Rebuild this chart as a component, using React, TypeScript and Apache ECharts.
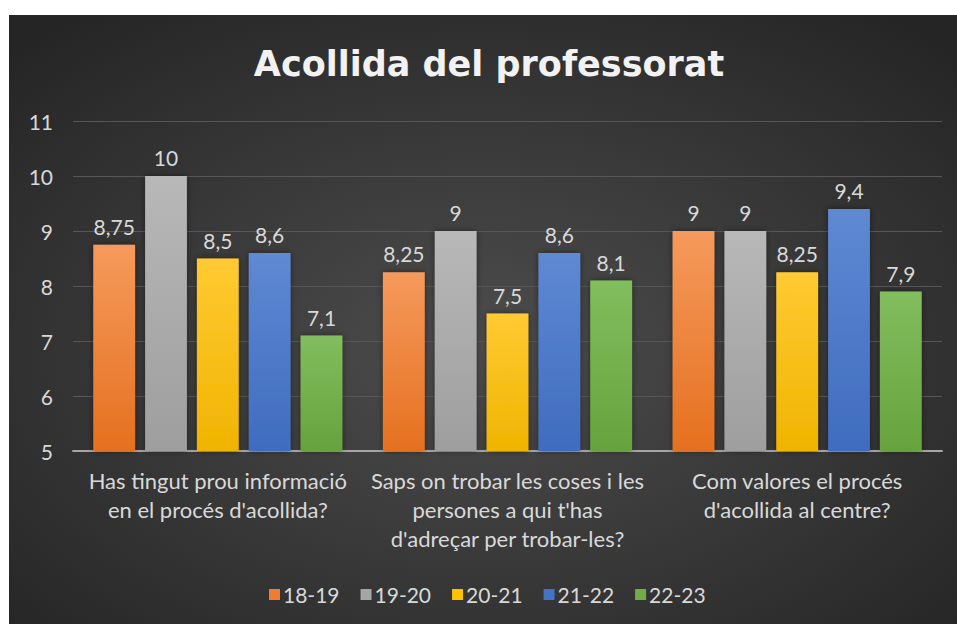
import React, { useEffect, useRef } from "react";
import * as echarts from "echarts";

const categories = [
  "Has tingut prou informació\nen el procés d'acollida?",
  "Saps on trobar les coses i les\npersones a qui t'has\nd'adreçar per trobar-les?",
  "Com valores el procés\nd'acollida al centre?",
];
const seriesNames = ["18-19", "19-20", "20-21", "21-22", "22-23"];
const s1819 = [8.75, 8.25, 9];
const s1920 = [10, 9, 9];
const s2021 = [8.5, 7.5, 8.25];
const s2122 = [8.6, 8.6, 9.4];
const s2223 = [7.1, 8.1, 7.9];
const seriesValues = [s1819, s1920, s2021, s2122, s2223];
const yTicks = { min: 5, max: 11, interval: 1 };

const colorPairs = [
  ["#F59A5C", "#E5701F"],
  ["#B8B8B8", "#9E9E9E"],
  ["#FFCA33", "#F0B400"],
  ["#5F89D3", "#3F6CBF"],
  ["#82BD5E", "#66A33D"],
];
const legendColors = ["#ED7D31", "#A5A5A5", "#FFC000", "#4472C4", "#70AD47"];

const FONT = "Lato, 'Open Sans', sans-serif";
const LABEL = "#D9D9D9";

export default function App() {
  const ref = useRef<HTMLDivElement>(null);
  useEffect(() => {
    if (!ref.current) return;
    const chart = echarts.init(ref.current, undefined, { renderer: "svg" });
    const series = seriesNames.map((name, i) => ({
      name,
      type: "bar",
      data: seriesValues[i],
      barGap: "24%",
      barCategoryGap: "14%",
      itemStyle: {
        color: new echarts.graphic.LinearGradient(0, 0, 0, 1, [
          { offset: 0, color: colorPairs[i][0] },
          { offset: 1, color: colorPairs[i][1] },
        ]),
        shadowColor: "rgba(0,0,0,0.45)",
        shadowBlur: 6,
      },
      label: {
        show: true,
        position: "top",
        distance: 8,
        color: LABEL,
        fontSize: 21,
        fontFamily: FONT,
        formatter: (p: any) => String(p.value).replace(".", ","),
      },
    }));
    chart.setOption({
      animation: false,
      backgroundColor: "#ffffff",
      graphic: [
        {
          type: "rect",
          z: -10,
          silent: true,
          shape: { x: 9, y: 15, width: 948, height: 609 },
          style: {
            fill: new echarts.graphic.RadialGradient(0.5, 0.55, 0.7, [
              { offset: 0, color: "#4d4d4d" },
              { offset: 1, color: "#252525" },
            ]),
          },
        },
        {
          type: "text",
          x: 489,
          y: 64,
          z: 10,
          style: {
            text: "Acollida del professorat",
            fill: "#F2F2F2",
            font: `bold 35px 'DejaVu Sans', sans-serif`,
            textAlign: "center",
            textVerticalAlign: "middle",
            shadowColor: "rgba(0,0,0,0.7)",
            shadowBlur: 5,
            shadowOffsetX: 2,
            shadowOffsetY: 2,
          },
        },
      ],
      legend: {
        data: seriesNames.map((n, i) => ({ name: n, itemStyle: { color: legendColors[i] } })),
        left: 264,
        top: 579,
        itemWidth: 11,
        itemHeight: 11,
        itemGap: 21,
        icon: "rect",
        textStyle: { color: LABEL, fontSize: 21, fontFamily: FONT, padding: [0, 0, 0, -2] },
      },
      grid: { left: 73, right: 15, top: 121, bottom: 173, containLabel: false },
      xAxis: {
        type: "category",
        data: categories,
        axisLine: { show: true, lineStyle: { color: "#A6A6A6", width: 2 } },
        axisTick: { show: false },
        axisLabel: {
          interval: 0,
          color: LABEL,
          fontSize: 22,
          fontFamily: FONT,
          lineHeight: 29,
          margin: 15,
          align: "center",
        },
      },
      yAxis: {
        type: "value",
        min: yTicks.min,
        max: yTicks.max,
        interval: yTicks.interval,
        axisLine: { show: false },
        axisTick: { show: false },
        splitLine: { lineStyle: { color: "#575757", width: 1 } },
        axisLabel: { color: LABEL, fontSize: 21, fontFamily: FONT, margin: 20 },
      },
      series,
    });
    return () => chart.dispose();
  }, []);
  return (
    <div
      ref={ref}
      style={{ position: "fixed", left: 0, top: 0, width: 957, height: 624 }}
    />
  );
}
